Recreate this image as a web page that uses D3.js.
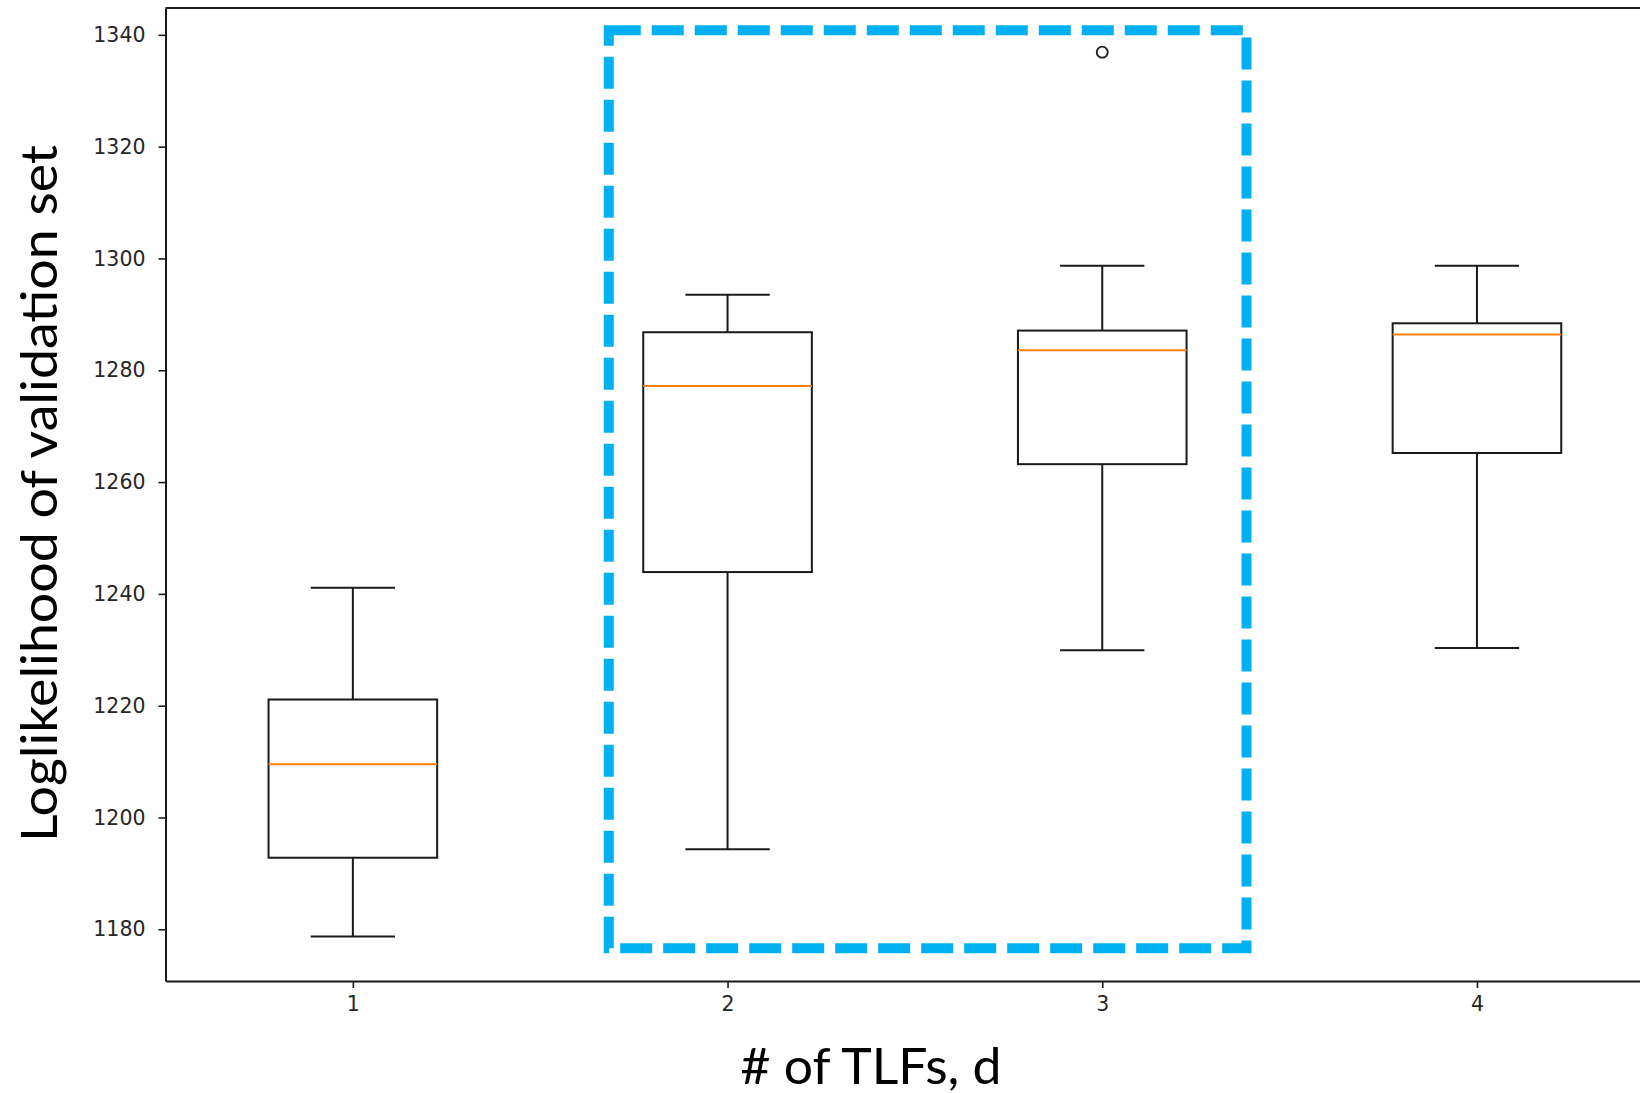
<!DOCTYPE html>
<html>
<head>
<meta charset="utf-8">
<script src="https://cdn.jsdelivr.net/npm/d3@7"></script>
<style>
  html, body { margin: 0; padding: 0; background: #fff; }
  svg { display: block; }
</style>
</head>
<body>
<svg id="chart" width="1640" height="1093"></svg>
<script>
// Number of TLFs (box positions)
const categories = [1, 2, 3, 4];

// Box statistics per category
const whiskerLow  = [1178.7, 1194.3, 1229.9, 1230.3];
const quartile1   = [1192.8, 1243.9, 1263.2, 1265.2];
const medians     = [1209.5, 1277.2, 1283.6, 1286.4];
const quartile3   = [1221.1, 1286.8, 1287.1, 1288.4];
const whiskerHigh = [1241.1, 1293.5, 1298.7, 1298.7];

// Fliers
const outlierCategory = [3];
const outlierValue    = [1336.9];

// Tick labels
const yTicks = [1180, 1200, 1220, 1240, 1260, 1280, 1300, 1320, 1340];
const xTicks = [1, 2, 3, 4];

// Highlighted group (categories 2 and 3), in data units
const highlightX = [1.683, 3.385];
const highlightY = [1176.6, 1340.8];

const svg = d3.select("#chart");
svg.append("rect").attr("width", 1640).attr("height", 1093).attr("fill", "#fff");

const plot = { left: 165.5, right: 1664.3, top: 8, bottom: 981 };

const x = d3.scaleLinear().domain([0.5, 4.5]).range([plot.left, plot.right]);
const y = d3.scaleLinear().domain([1170.75, 1344.8]).range([plot.bottom, plot.top]);

const boxWidth = 0.45;
const capWidth = boxWidth / 2;
const ink = "#1a1a1a";

const stats = categories.map((c, i) => ({
  c, lo: whiskerLow[i], q1: quartile1[i], med: medians[i], q3: quartile3[i], hi: whiskerHigh[i]
}));

// Axes
const tickFont = "'DejaVu Sans', sans-serif";
const yAxis = svg.append("g")
  .attr("transform", `translate(${plot.left},0)`)
  .call(d3.axisLeft(y).tickValues(yTicks).tickSize(7).tickPadding(13).tickSizeOuter(0).tickFormat(d3.format("d")));
const xAxis = svg.append("g")
  .attr("transform", `translate(0,${plot.bottom})`)
  .call(d3.axisBottom(x).tickValues(xTicks).tickSize(7).tickPadding(8).tickSizeOuter(0).tickFormat(d3.format("d")));

[yAxis, xAxis].forEach(g => {
  g.select(".domain").attr("stroke", ink).attr("stroke-width", 2);
  g.selectAll(".tick line").attr("stroke", ink).attr("stroke-width", 1.6);
  g.selectAll(".tick text").attr("fill", "#262626")
    .style("font-family", tickFont).style("font-size", "20.5px");
});

// Top spine
svg.append("line")
  .attr("x1", plot.left).attr("x2", plot.right)
  .attr("y1", plot.top).attr("y2", plot.top)
  .attr("stroke", ink).attr("stroke-width", 2);

// Box plots
const boxes = svg.append("g").selectAll("g").data(stats).join("g");

boxes.append("line")
  .attr("x1", d => x(d.c)).attr("x2", d => x(d.c))
  .attr("y1", d => y(d.hi)).attr("y2", d => y(d.q3))
  .attr("stroke", ink).attr("stroke-width", 2);
boxes.append("line")
  .attr("x1", d => x(d.c)).attr("x2", d => x(d.c))
  .attr("y1", d => y(d.q1)).attr("y2", d => y(d.lo))
  .attr("stroke", ink).attr("stroke-width", 2);
boxes.append("line")
  .attr("x1", d => x(d.c - capWidth / 2)).attr("x2", d => x(d.c + capWidth / 2))
  .attr("y1", d => y(d.hi)).attr("y2", d => y(d.hi))
  .attr("stroke", ink).attr("stroke-width", 2);
boxes.append("line")
  .attr("x1", d => x(d.c - capWidth / 2)).attr("x2", d => x(d.c + capWidth / 2))
  .attr("y1", d => y(d.lo)).attr("y2", d => y(d.lo))
  .attr("stroke", ink).attr("stroke-width", 2);
boxes.append("rect")
  .attr("x", d => x(d.c - boxWidth / 2))
  .attr("width", d => x(d.c + boxWidth / 2) - x(d.c - boxWidth / 2))
  .attr("y", d => y(d.q3))
  .attr("height", d => y(d.q1) - y(d.q3))
  .attr("fill", "none").attr("stroke", ink).attr("stroke-width", 2);
boxes.append("line")
  .attr("x1", d => x(d.c - boxWidth / 2)).attr("x2", d => x(d.c + boxWidth / 2))
  .attr("y1", d => y(d.med)).attr("y2", d => y(d.med))
  .attr("stroke", "#ff7f0e").attr("stroke-width", 2);

// Fliers
svg.append("g").selectAll("circle")
  .data(outlierCategory.map((c, i) => ({ c, v: outlierValue[i] })))
  .join("circle")
  .attr("cx", d => x(d.c)).attr("cy", d => y(d.v)).attr("r", 5.5)
  .attr("fill", "none").attr("stroke", ink).attr("stroke-width", 1.8);

// Dashed highlight frame
svg.append("rect")
  .attr("x", x(highlightX[0])).attr("y", y(highlightY[1]))
  .attr("width", x(highlightX[1]) - x(highlightX[0]))
  .attr("height", y(highlightY[0]) - y(highlightY[1]))
  .attr("fill", "none").attr("stroke", "#00b0f0").attr("stroke-width", 10)
  .attr("stroke-dasharray", "32 11");

// Axis titles
const titleFont = "Lato, 'Noto Sans', sans-serif";
svg.append("text")
  .attr("x", 871).attr("y", 1083.5)
  .attr("text-anchor", "middle")
  .attr("textLength", 261).attr("lengthAdjust", "spacingAndGlyphs")
  .style("font-family", titleFont).style("font-size", "51px").attr("fill", "#000")
  .text("# of TLFs, d");

svg.append("text")
  .attr("transform", "translate(56.5,493.5) rotate(-90)")
  .attr("text-anchor", "middle")
  .attr("textLength", 697).attr("lengthAdjust", "spacingAndGlyphs")
  .style("font-family", titleFont).style("font-size", "51px").attr("fill", "#000")
  .text("Loglikelihood of validation set");
</script>
</body>
</html>
